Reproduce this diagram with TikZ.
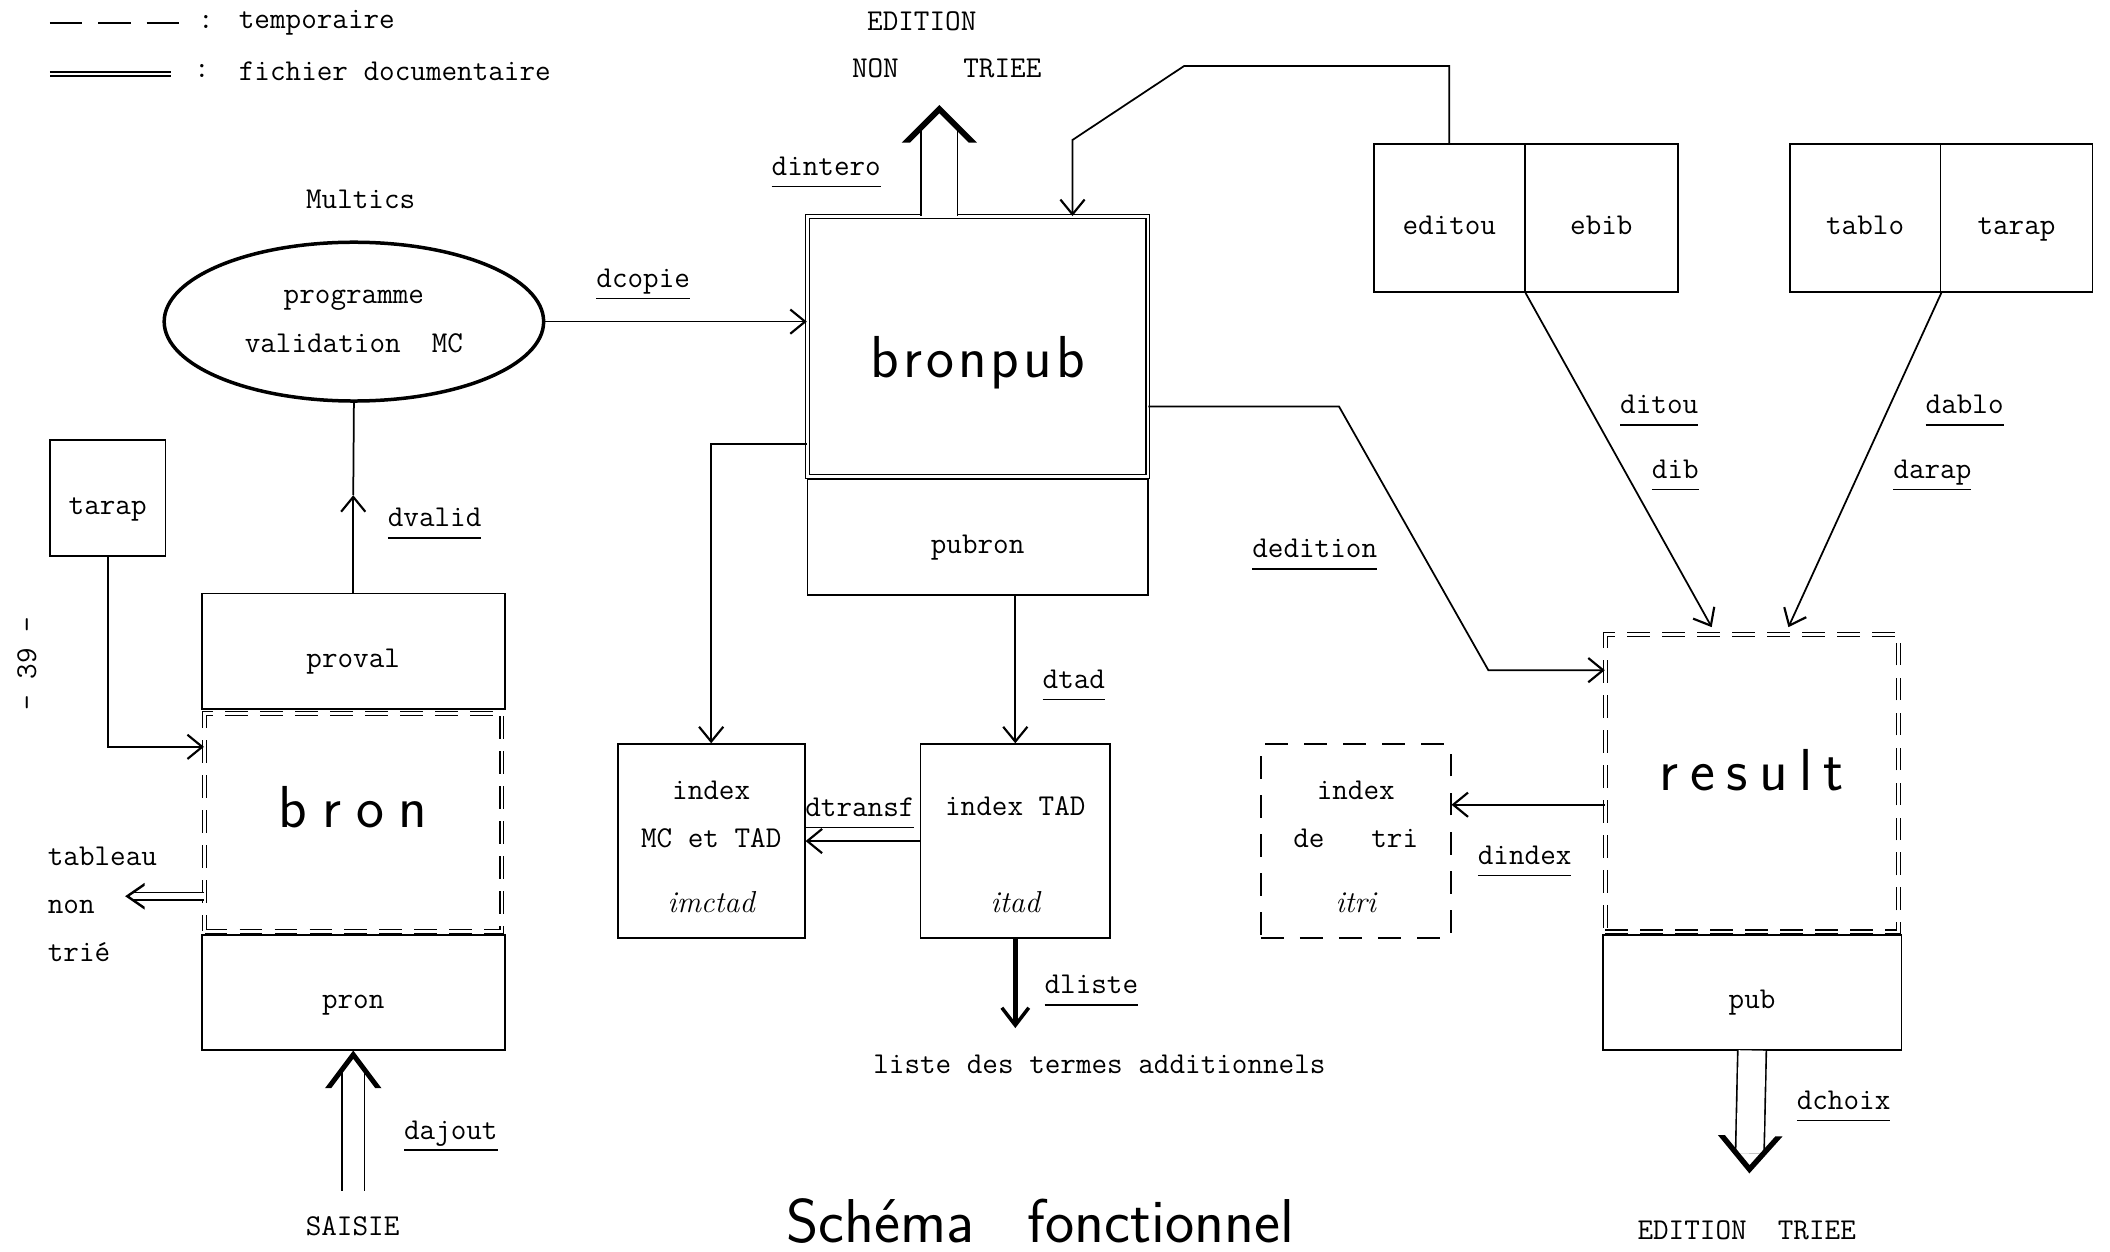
\documentclass[tikz,border=0pt]{standalone}
\usepackage{fontspec}
\usetikzlibrary{arrows.meta,positioning,shapes.geometric,decorations.markings}
\newcommand\dname[1]{\vtop{\hbox{#1\vphantom{j}}\kern2.5pt\hrule height 1.1pt}}
\makeatletter
\newcommand\spread[2]{\def\spr@k{#1}\@tfor\spr@c:=#2\do{\spr@c\kern\spr@k}\kern-\spr@k}
\makeatother

\begin{document}
\begin{tikzpicture}[x=1pt,y=-1pt,
    every node/.style={font=\fontsize{22.5}{36}\selectfont\ttfamily},
    cell/.style={draw,line width=1.3pt,inner sep=0pt},
    tag/.style={cell,text height=29pt,text depth=5pt},
    docfile/.style={cell,double,line width=0.9pt,double distance=2pt},
    tmpfile/.style={docfile,dash pattern=on 17pt off 9pt},
    scratch/.style={cell,dash pattern=on 17pt off 12pt},
    hand/.style={font=\fontsize{#1}{#1}\selectfont\sffamily},
    flow/.style={line width=1.3pt,-{Straight Barb[length=11pt,width=18pt,line width=1.6pt]}},
    twin/.style args={#1/#2/#3/#4}{double,line width=1.2pt,double distance=#1,shorten >=#4,
      postaction={decorate,decoration={markings,mark=at position 1 with
        {\fill[shorten >=0pt] (-#2,#3) -- (0pt,0pt) -- (-#2,-#3) -- (-#2,-0.78*#3) -- (-0.22*#2,0pt) -- (-#2,0.78*#3) -- cycle;}}}},
    heavy/.style={line width=3.8pt,-{Straight Barb[length=13pt,width=20pt,line width=2.6pt]}}]
  \useasboundingbox (0,0) rectangle (1568,930);

  % legende
  \draw[line width=1.3pt,dash pattern=on 24pt off 12pt] (37,17) -- (133,17);
  \node (c1) at (153,16) {:};
  \node[anchor=west] (ltmp) at (174,17) {temporaire};
  \draw[double,line width=0.9pt,double distance=2pt] (37,55) -- (127,55);
  \node (c2) at (150,53) {:};
  \node[anchor=west] (ldoc) at (174,53) {fichier documentaire};
  \node[rotate=90] (page) at (20,493) {- 39 -};

  % partie gauche
  \node (multics) at (268,148) {Multics};
  \node[draw,ellipse,line width=2.6pt,inner sep=0pt,minimum width=282pt,minimum height=118pt,align=center] (prog) at (263,239) {programme\\validation\ \ MC};
  \node[tag,minimum width=86pt,minimum height=86pt] (tarapL) at (80,370) {tarap};
  \node[tag,minimum width=225pt,minimum height=86pt] (proval) at (262.5,484) {proval};
  \node[tag,minimum width=225pt,minimum height=85pt] (pron) at (262.5,737.5) {pron};
  \node[tmpfile,minimum width=221pt,minimum height=162pt,hand=44,text depth=22pt] (bron) at (262.5,611) {\spread{11pt}{bron}};
  \node[align=left,anchor=west] (tnt) at (32,672) {tableau\\non\\trié};
  \node (saisie) at (262,911) {SAISIE};
  \coordinate (dv) at (262.5,368);
  \coordinate (tabl) at (93,666);
  \coordinate (sj) at (262.5,885);

  % bronpub
  \node[tag,minimum width=253pt,minimum height=86pt] (pubron) at (726.5,399) {pubron};
  \node[docfile,minimum width=253pt,minimum height=193pt,hand=44,text height=55pt] (bronpub) at (726.5,257.5) {\spread{3pt}{bronpub}};
  \node (edit) at (685,16) {EDITION};
  \node (nontriee) at (703.5,51) {NON\hspace{48pt}TRIEE};
  \coordinate (ent) at (698,78);
  \coordinate (k1) at (880,49);
  \coordinate (k2) at (797,104);

  % index
  \node[cell,minimum width=139pt,minimum height=144pt,align=center,text height=106pt] (imctad) at (528.5,625) {index\\MC et TAD\\[12pt]{\rmfamily\itshape imctad}};
  \node[cell,minimum width=141pt,minimum height=144pt,align=center,text height=106pt] (itad) at (754.5,625) {index TAD\\[36pt]{\rmfamily\itshape itad}};
  \node[scratch,minimum width=141pt,minimum height=144pt,align=center,text height=106pt] (itri) at (1007.5,625) {index\\de\ \ \ tri\\[12pt]{\rmfamily\itshape itri}};
  \node (liste) at (817,791) {liste des termes additionnels};
  \coordinate (dl) at (754.5,764);

  % partie droite
  \node[tag,minimum width=112pt,minimum height=110pt] (editou) at (1077,162) {editou};
  \node[tag,minimum width=114pt,minimum height=110pt] (ebib) at (1190,162) {ebib};
  \node[tag,minimum width=112pt,minimum height=110pt] (tablo) at (1386,162) {tablo};
  \node[tag,minimum width=113pt,minimum height=110pt] (tarapR) at (1498.5,162) {tarap};
  \node[tag,minimum width=222pt,minimum height=85pt] (pub) at (1302,737.5) {pub};
  \node[tmpfile,minimum width=218pt,minimum height=221pt,hand=44,text depth=20pt] (result) at (1302,582) {\spread{8.5pt}{result}};
  \node (edtriee) at (1298,914) {EDITION\ \ TRIEE};
  \coordinate (et) at (1300,872);
  \coordinate (k3) at (995,302);
  \coordinate (k4) at (1106,498);

  \node[hand=46] (titre) at (773,907) {Schéma\hspace{40pt}fonctionnel};

  % liaisons
  \draw[flow] (prog.east) -- (prog.east -| bronpub.west);
  \draw[flow] (proval.north) -- (dv);
  \draw[line width=1.3pt] (dv) -- (prog.south);
  \draw[flow] (tarapL.south) |- ([yshift=56pt]bron.west);
  \draw[twin=4.5pt/14.5pt/10pt/5.5pt] ([yshift=-55pt]bron.west) -- (tabl);
  \draw[twin=15.4pt/28pt/21pt/14pt] (sj) -- (pron.south);
  \draw[twin=26pt/28pt/28pt/17pt] ([xshift=-28.5pt]bronpub.north) -- (ent);
  \draw[flow] (editou.north) |- (k1) -- (k2) -- (k2 |- bronpub.north);
  \draw[flow] ([yshift=-72.5pt]bronpub.west) -| (imctad.north);
  \draw[flow] (pubron.south -| itad.north) -- (itad.north);
  \draw[flow] (itad.west) -- (imctad.east);
  \draw[heavy] (itad.south) -- (dl);
  \draw[flow] ([yshift=-44.5pt]bronpub.east) -- (k3) -- (k4) -- (k4 -| result.west);
  \draw[flow] (editou.south east) -- ([xshift=-30pt,yshift=5pt]result.north);
  \draw[flow] (tablo.south east) -- ([xshift=27pt,yshift=5pt]result.north);
  \draw[flow] ([yshift=-16pt]result.west) -- ([yshift=-16pt]result.west -| itri.east);
  \draw[twin=20pt/28pt/24pt/15pt] (pub.south) -- (et);

  % noms des donnees
  \node (ldintero) at (614,128) {\dname{dintero}};
  \node (ldcopie) at (478,211) {\dname{dcopie}};
  \node (ldvalid) at (323,389) {\dname{dvalid}};
  \node (ldajout) at (335,844) {\dname{dajout}};
  \node (ldtad) at (798,509) {\dname{dtad}};
  \node (ldtransf) at (639,604) {\dname{dtransf}};
  \node (ldliste) at (811,736) {\dname{dliste}};
  \node (lditou) at (1233,305) {\dname{ditou}};
  \node (ldib) at (1245,353) {\dname{dib}};
  \node (ldablo) at (1460,305) {\dname{dablo}};
  \node (ldarap) at (1436,353) {\dname{darap}};
  \node (ldedition) at (977,412) {\dname{dedition}};
  \node (ldindex) at (1133,640) {\dname{dindex}};
  \node (ldchoix) at (1370,822) {\dname{dchoix}};
\end{tikzpicture}
\end{document}
